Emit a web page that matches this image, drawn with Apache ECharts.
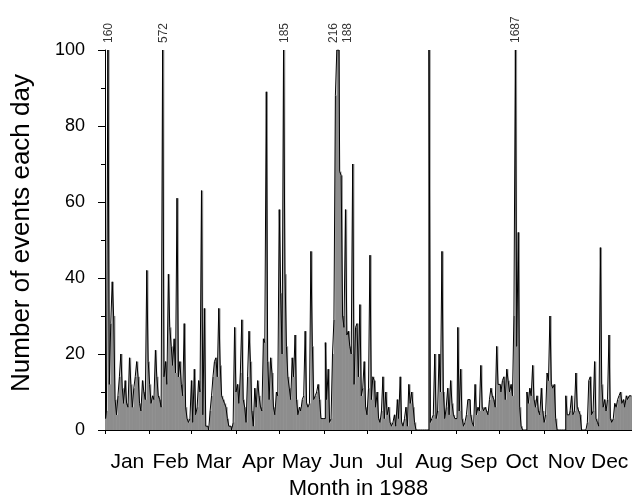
<!DOCTYPE html>
<html><head><meta charset="utf-8">
<script src="https://cdn.jsdelivr.net/npm/echarts@6/dist/echarts.min.js"></script>
<style>html,body{margin:0;padding:0;background:#fff}#c{width:632px;height:497px}</style>
</head><body><div id="c"></div>
<script>
const monthNames = ['Jan','Feb','Mar','Apr','May','Jun','Jul','Aug','Sep','Oct','Nov','Dec'];
const monthDays = [31,29,31,30,31,30,31,31,30,31,30,31];
const yTicks = [0,20,40,60,80,100];
// daily event counts, 1988
const jan = [3,5,160,12,28,39,30,8,4,9,14,20,11,7,13,7,6,19,12,6,11,14,18,14,7,5,13,10,8,42,18];
const feb = [12,7,9,8,21,14,9,8,6,572,14,18,12,41,27,22,17,24,15,61,14,18,12,9,28,6,3,2,3];
const mar = [13,2,16,4,6,13,10,63,4,32,1,1,0,5,9,14,18,19,14,32,17,9,8,7,6,3,1,1,0,2,27];
const apr = [10,12,7,15,29,8,6,2,14,26,18,5,1,11,6,13,9,6,5,24,23,89,18,8,19,15,6,4,10,9];
const may = [58,36,20,185,41,22,14,11,8,19,14,25,8,4,6,5,8,9,26,7,6,7,47,22,8,9,10,12,8,3,3];
const jun = [3,23,8,16,2,3,20,29,88,216,188,68,67,30,27,58,25,26,22,20,70,12,27,28,14,33,9,11,18,6];
const jul = [4,11,46,8,14,13,6,10,3,2,5,14,3,10,4,6,2,1,2,4,1,8,3,14,2,1,3,6,1,12,7];
const aug = [10,6,2,0,0,0,0,0,0,0,0,0,100,2,3,4,20,3,5,20,10,47,10,3,6,11,4,13,7,4,3];
const sep = [3,27,5,16,3,1,2,4,8,8,4,2,1,12,4,6,5,17,6,5,6,5,4,8,11,9,8,6,22,12];
const oct = [12,10,13,14,8,16,13,10,12,9,30,1687,22,52,6,1,0,0,0,10,7,11,9,17,8,6,9,5,4,11,5];
const nov = [2,4,15,13,30,12,11,12,3,0,0,0,0,0,0,9,4,4,5,9,4,5,15,6,5,4,0,0,0,0];
const dec = [2,13,14,4,5,18,3,2,1,48,12,6,8,5,8,25,3,2,3,7,6,8,9,10,7,8,6,9,8,9,9];

const raw = [].concat(jan,feb,mar,apr,may,jun,jul,aug,sep,oct,nov,dec);
const YMAX = yTicks[yTicks.length-1];
const shown = raw.map(v => Math.min(v, YMAX));
const days = raw.map((_, i) => String(i));
const monthStart = [], monthMid = {};
let acc = 0;
monthDays.forEach((d, m) => { monthStart.push(acc); monthMid[acc + Math.floor(d/2)] = monthNames[m]; acc += d; });
const startSet = new Set(monthStart);

// labels for clipped values
const over = [];
raw.forEach((v, i) => { if (v > YMAX) over.push(i); });
const labelData = over.map((i, k) => {
  let off = 0;
  if (over[k+1] === i + 1) off = -4;
  if (over[k-1] === i - 1) off = 9;
  return { value: [i, YMAX], label: { offset: [0, off] }, rawVal: raw[i] };
});

const chart = echarts.init(document.getElementById('c'), null, {renderer: 'canvas'});
const font = 'Arial, "Liberation Sans", Helvetica, sans-serif';
chart.setOption({
  animation: false,
  backgroundColor: '#fff',
  textStyle: { fontFamily: font, color: '#000' },
  grid: { left: 105, right: 0, top: 50, bottom: 67, containLabel: false, outerBoundsMode: 'none' },
  xAxis: {
    type: 'category', data: days, boundaryGap: true,
    name: 'Month in 1988', nameLocation: 'middle', nameGap: 44,
    nameTextStyle: { fontSize: 22, color: '#000', fontFamily: font, padding: [0, 20, 0, 0] },
    axisLine: { lineStyle: { color: '#000', width: 1 } },
    axisTick: { show: true, length: 4, interval: (idx) => startSet.has(idx), lineStyle: { color: '#000' } },
    axisLabel: { interval: (idx) => monthMid[idx] !== undefined, formatter: (v, idx) => monthMid[idx] || '',
      fontSize: 21, color: '#000', margin: 22, fontFamily: font },
    splitLine: { show: false }
  },
  yAxis: {
    type: 'value', min: 0, max: YMAX, interval: 20,
    name: 'Number of events each day', nameLocation: 'middle', nameGap: 70,
    nameTextStyle: { fontSize: 26, color: '#000', fontFamily: font, padding: [0, 0, 0, 14] },
    axisLine: { show: true, lineStyle: { color: '#000', width: 1 } },
    axisTick: { show: true, length: 7, lineStyle: { color: '#000' } },
    minorTick: { show: true, splitNumber: 2, length: 4, lineStyle: { color: '#000' } },
    axisLabel: { fontSize: 18, color: '#000', margin: 20, fontFamily: font },
    splitLine: { show: false }
  },
  series: [
    { type: 'bar', data: shown, barWidth: 2, barGap: '-100%', itemStyle: { color: '#8d8d8d' }, silent: true },
    { type: 'line', data: shown, step: 'middle', symbol: 'none', lineStyle: { color: '#000', width: 1 }, silent: true },
    { type: 'scatter', data: labelData, symbolSize: 0, silent: true, clip: false,
      label: { show: true, position: 'top', distance: 7, rotate: 90, align: 'left', verticalAlign: 'middle',
        fontSize: 12, color: '#000', fontFamily: font,
        formatter: (p) => String(p.data.rawVal) } }
  ]
});
</script></body></html>
